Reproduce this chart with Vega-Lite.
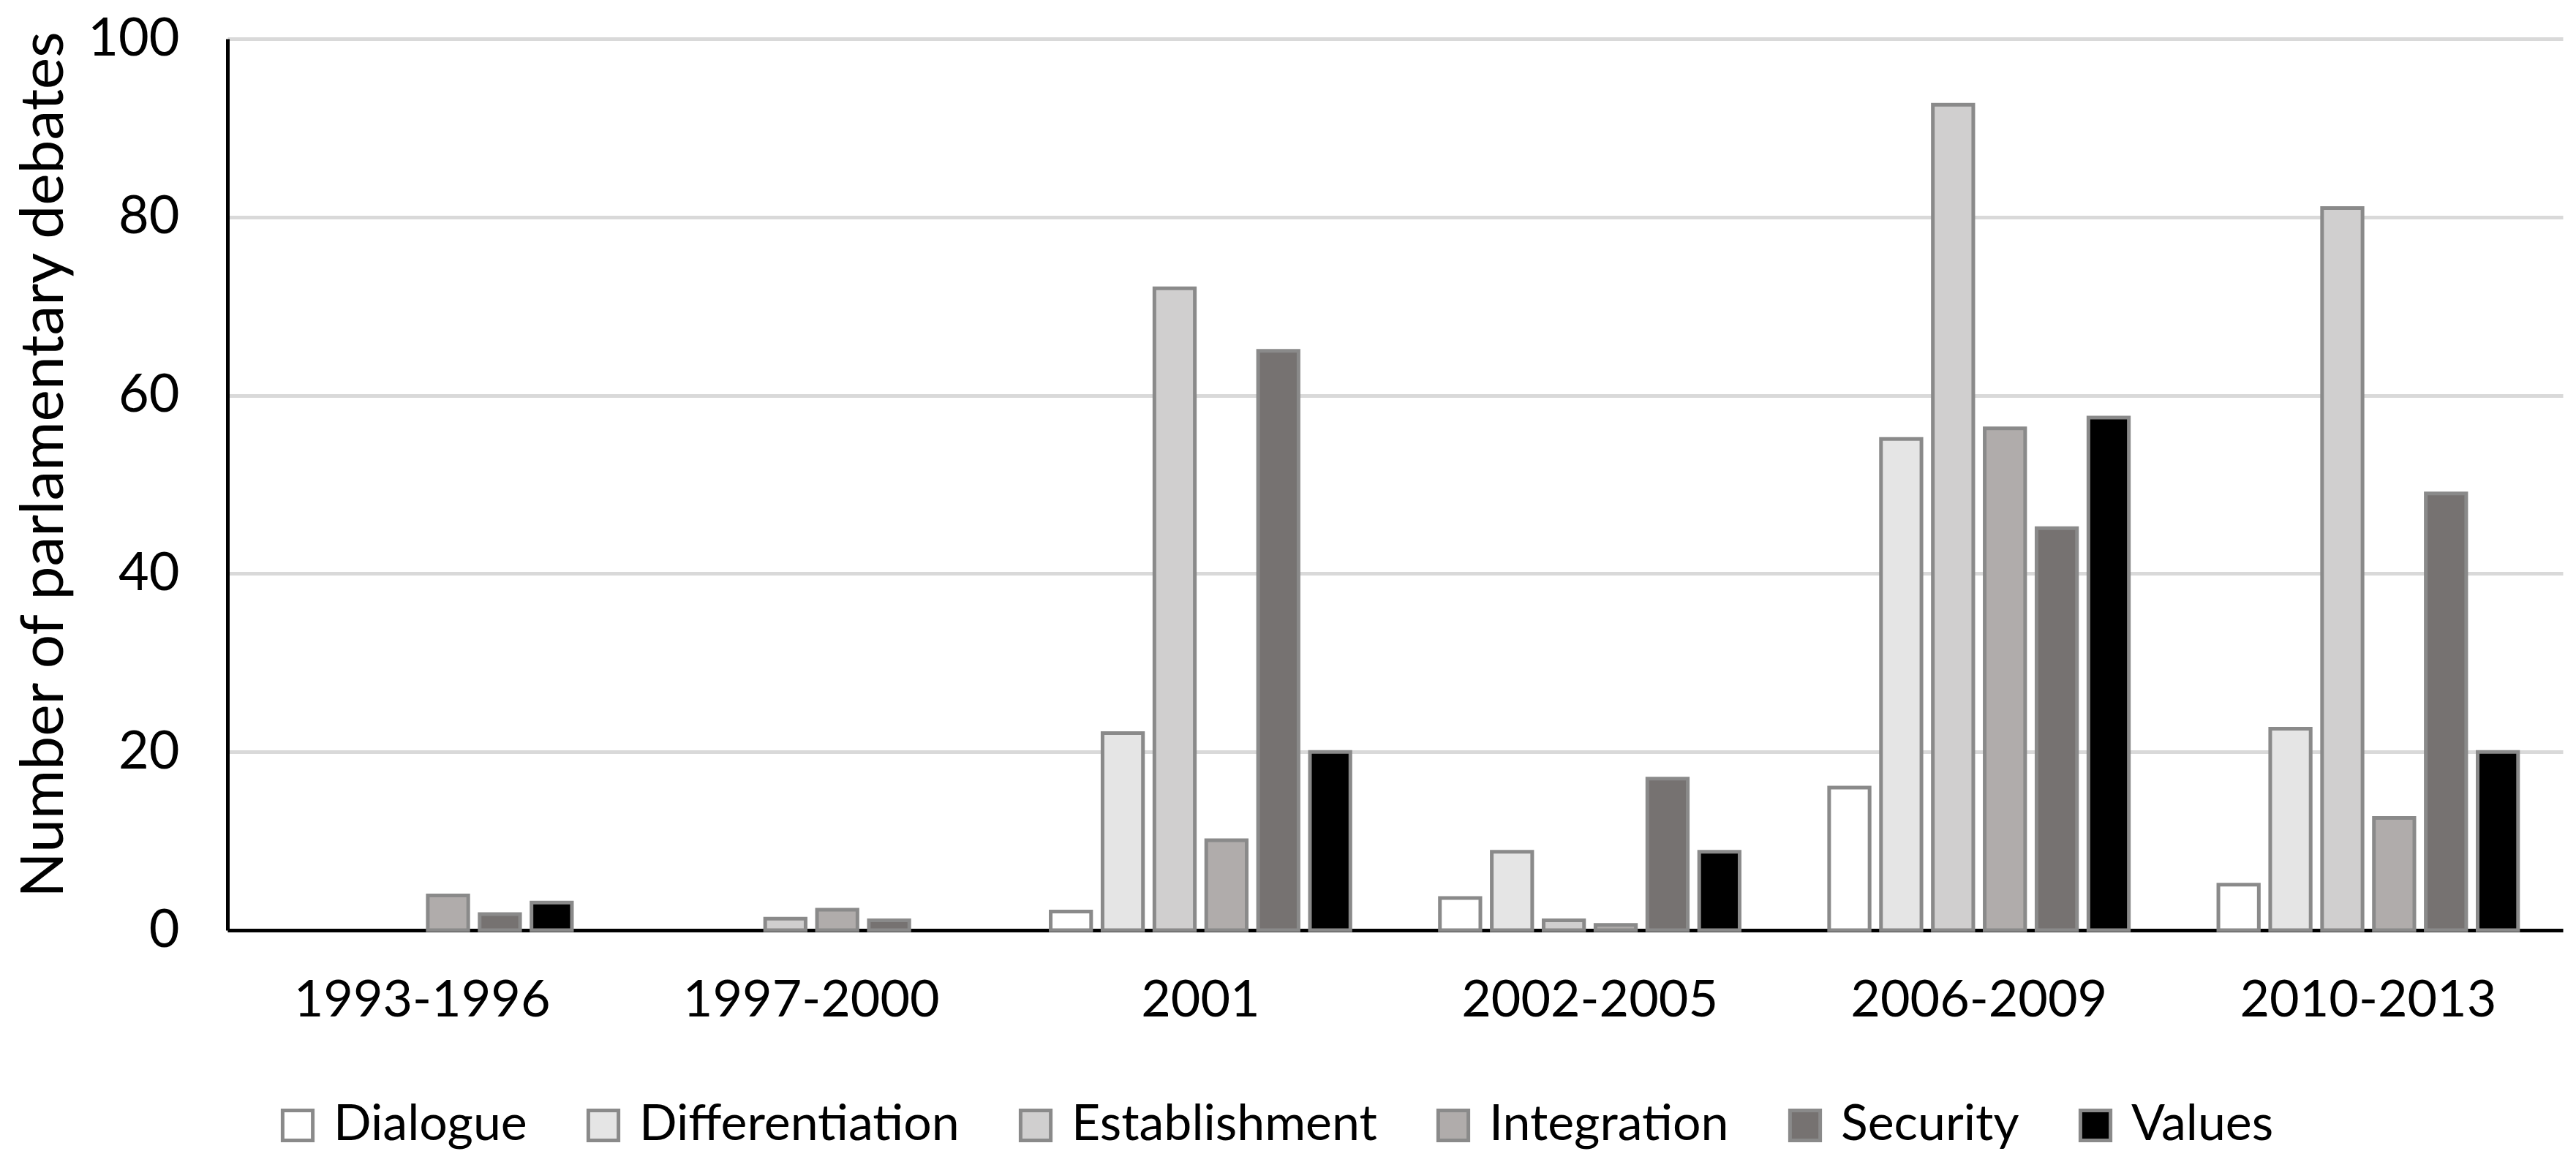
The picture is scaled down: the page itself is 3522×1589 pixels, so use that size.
{
  "$schema": "https://vega.github.io/schema/vega-lite/v6.json",
  "description": "Number of parliamentary debates by period and frame",
  "autosize": "none",
  "padding": {"left": 311, "top": 53, "right": 18, "bottom": 317},
  "width": 3193,
  "height": 1219,
  "background": "white",
  "config": {
    "font": "Lato",
    "view": {"stroke": null}
  },
  "data": {
    "values": [
      {"period": "1993-1996", "frame": "Integration", "debates": 3.9},
      {"period": "1993-1996", "frame": "Security", "debates": 1.8},
      {"period": "1993-1996", "frame": "Values", "debates": 3.1},
      {"period": "1997-2000", "frame": "Establishment", "debates": 1.3},
      {"period": "1997-2000", "frame": "Integration", "debates": 2.3},
      {"period": "1997-2000", "frame": "Security", "debates": 1.1},
      {"period": "2001", "frame": "Dialogue", "debates": 2.1},
      {"period": "2001", "frame": "Differentiation", "debates": 22.1},
      {"period": "2001", "frame": "Establishment", "debates": 72},
      {"period": "2001", "frame": "Integration", "debates": 10.1},
      {"period": "2001", "frame": "Security", "debates": 65},
      {"period": "2001", "frame": "Values", "debates": 20},
      {"period": "2002-2005", "frame": "Dialogue", "debates": 3.6},
      {"period": "2002-2005", "frame": "Differentiation", "debates": 8.8},
      {"period": "2002-2005", "frame": "Establishment", "debates": 1.1},
      {"period": "2002-2005", "frame": "Integration", "debates": 0.6},
      {"period": "2002-2005", "frame": "Security", "debates": 17},
      {"period": "2002-2005", "frame": "Values", "debates": 8.8},
      {"period": "2006-2009", "frame": "Dialogue", "debates": 16},
      {"period": "2006-2009", "frame": "Differentiation", "debates": 55.1},
      {"period": "2006-2009", "frame": "Establishment", "debates": 92.6},
      {"period": "2006-2009", "frame": "Integration", "debates": 56.3},
      {"period": "2006-2009", "frame": "Security", "debates": 45.1},
      {"period": "2006-2009", "frame": "Values", "debates": 57.5},
      {"period": "2010-2013", "frame": "Dialogue", "debates": 5.1},
      {"period": "2010-2013", "frame": "Differentiation", "debates": 22.6},
      {"period": "2010-2013", "frame": "Establishment", "debates": 81},
      {"period": "2010-2013", "frame": "Integration", "debates": 12.6},
      {"period": "2010-2013", "frame": "Security", "debates": 49},
      {"period": "2010-2013", "frame": "Values", "debates": 20}
    ]
  },
  "mark": {"type": "bar", "stroke": "#8a8a8a", "strokeWidth": 5},
  "encoding": {
    "x": {
      "field": "period",
      "type": "nominal",
      "title": null,
      "scale": {"paddingInner": 0.23, "paddingOuter": 0.115},
      "axis": {
        "labelAngle": 0,
        "labelFontSize": 70,
        "labelLimit": 0,
        "labelColor": "#000000",
        "labelPadding": 62,
        "ticks": false,
        "domainColor": "#000000",
        "domainWidth": 5
      }
    },
    "xOffset": {
      "field": "frame",
      "type": "nominal",
      "scale": {
        "domain": ["Dialogue", "Differentiation", "Establishment", "Integration", "Security", "Values"],
        "paddingInner": 0.22,
        "paddingOuter": 0
      }
    },
    "y": {
      "field": "debates",
      "type": "quantitative",
      "title": "Number of parlamentary debates",
      "scale": {"domain": [0, 100]},
      "axis": {
        "values": [0, 20, 40, 60, 80, 100],
        "labelFontSize": 72,
        "labelColor": "#000000",
        "labelPadding": 66,
        "ticks": false,
        "domainColor": "#000000",
        "domainWidth": 5,
        "gridColor": "#d9d9d9",
        "gridWidth": 5,
        "titleFontSize": 82,
        "titleFontWeight": "normal",
        "titleColor": "#000000",
        "titleAngle": -90,
        "titleX": -251,
        "titleY": 582,
        "titleAlign": "center",
        "titleBaseline": "middle",
        "titleLimit": 0
      }
    },
    "color": {
      "field": "frame",
      "type": "nominal",
      "title": null,
      "scale": {
        "domain": ["Dialogue", "Differentiation", "Establishment", "Integration", "Security", "Values"],
        "range": ["#ffffff", "#e5e5e5", "#d0cfcf", "#b0acab", "#767271", "#000000"]
      },
      "legend": {
        "orient": "none",
        "direction": "horizontal",
        "legendX": 62,
        "legendY": 1452,
        "symbolType": "square",
        "symbolSize": 1700,
        "symbolStrokeColor": "#8a8a8a",
        "symbolStrokeWidth": 5,
        "symbolOpacity": 1,
        "labelFontSize": 68,
        "labelLimit": 0,
        "labelColor": "#000000",
        "labelOffset": 15,
        "columnPadding": 70
      }
    }
  }
}
